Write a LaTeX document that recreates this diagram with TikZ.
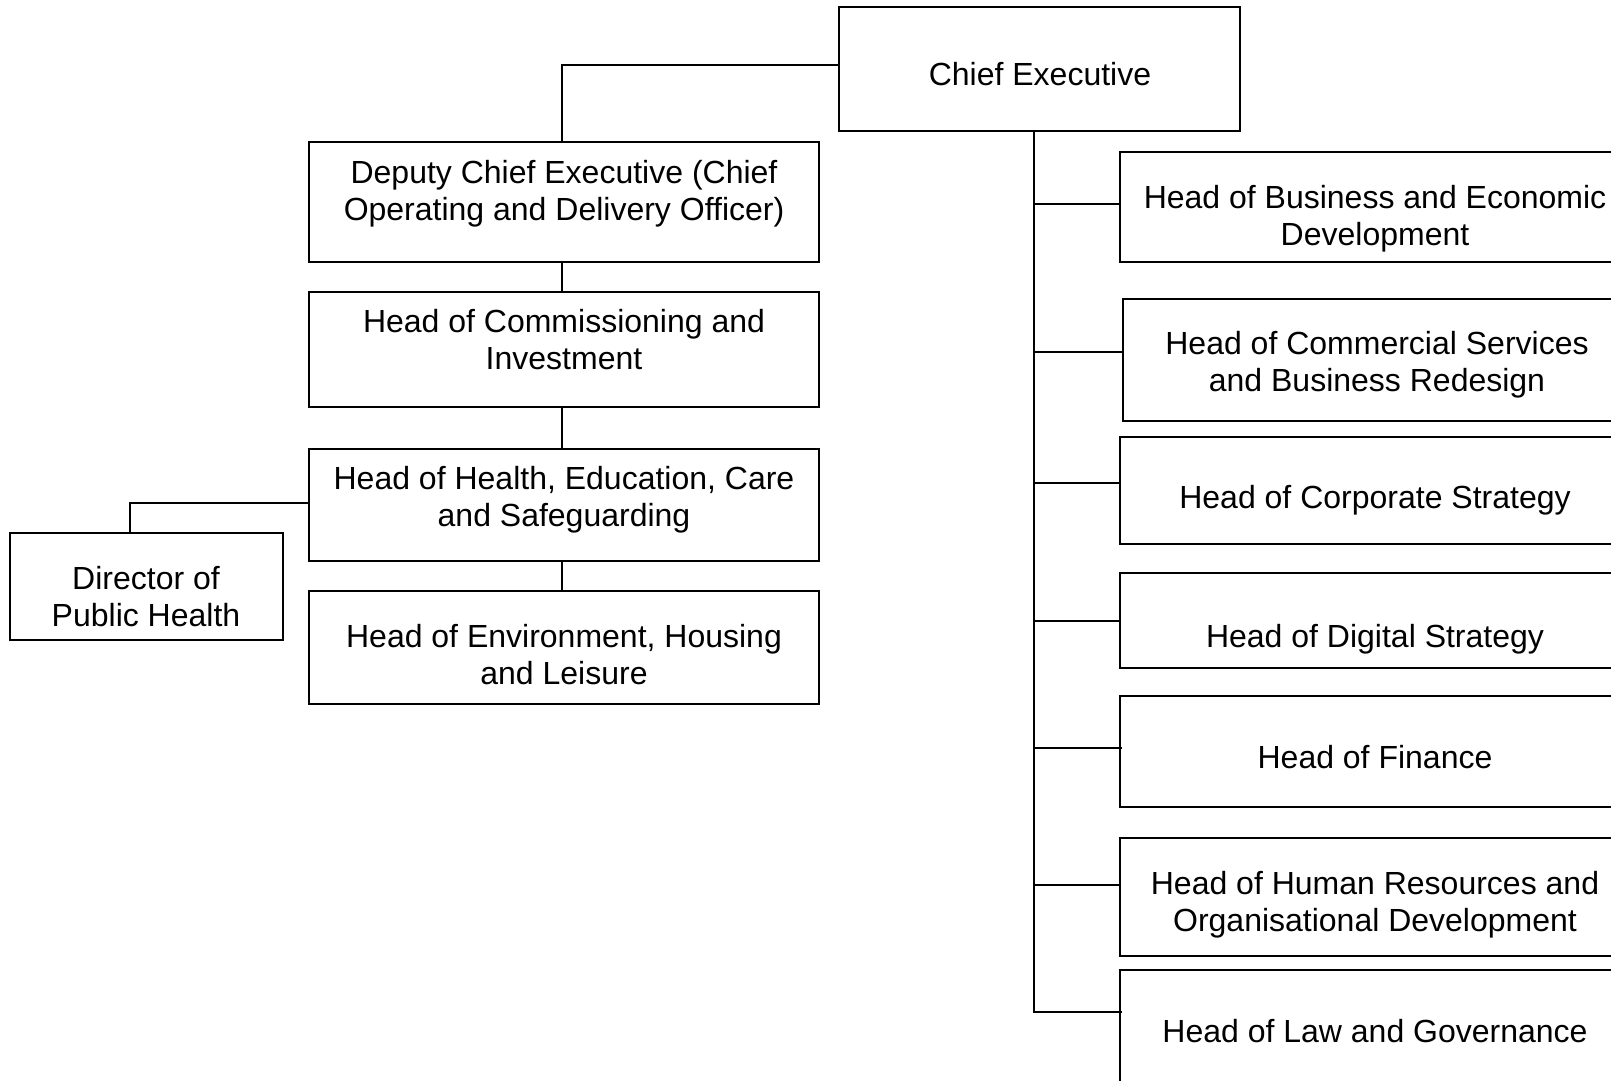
\documentclass[tikz,border=0pt]{standalone}
\usepackage{fontspec}
\setmainfont{Liberation Sans}
\usetikzlibrary{calc}
\begin{document}
\begin{tikzpicture}[x=1pt,y=-1pt,
  box/.style={draw, line width=1.5pt, rectangle, inner sep=0pt},
  txt/.style={font=\fontsize{32}{37}\selectfont, align=center, inner sep=0pt},
  conn/.style={line width=1.5pt}]
\useasboundingbox (0,0) rectangle (1611,1081);
\clip (0,0) rectangle (1611,1081);
% boxes
\node[box, minimum width=401pt, minimum height=124pt] (ce) at (1039.5,69) {};
\node[box, minimum width=510pt, minimum height=120pt] (dep) at (564,202) {};
\node[box, minimum width=510pt, minimum height=115pt] (com) at (564,349.5) {};
\node[box, minimum width=510pt, minimum height=112pt] (hea) at (564,505) {};
\node[box, minimum width=510pt, minimum height=113pt] (env) at (564,647.5) {};
\node[box, minimum width=273pt, minimum height=107pt] (dir) at (146.5,586.5) {};
\node[box, minimum width=509pt, minimum height=110pt] (bus) at (1374.5,207) {};
\node[box, minimum width=508pt, minimum height=122pt] (cms) at (1377,360) {};
\node[box, minimum width=509pt, minimum height=107pt] (cor) at (1374.5,490.5) {};
\node[box, minimum width=509pt, minimum height=95pt] (dig) at (1374.5,620.5) {};
\node[box, minimum width=509pt, minimum height=111pt] (fin) at (1374.5,751.5) {};
\node[box, minimum width=509pt, minimum height=118pt] (hr) at (1374.5,897) {};
\node[box, minimum width=509pt, minimum height=130pt] (law) at (1374.5,1035) {};
% texts
\node[txt] (ce-t) at (1040,74) {Chief Executive};
\node[txt] (dep-t) at (564,194) {Deputy Chief Executive (Chief\\Operating and Delivery Officer)};
\node[txt] (com-t) at (564,340) {Head of Commissioning and\\Investment};
\node[txt] (hea-t) at (564,500) {Head of Health, Education, Care\\and Safeguarding};
\node[txt] (env-t) at (564,654.5) {Head of Environment, Housing\\and Leisure};
\node[txt] (dir-t) at (146,597) {Director of\\Public Health};
\node[txt] (bus-t) at (1375,218.5) {Head of Business and Economic\\Development};
\node[txt] (cms-t) at (1377,364.5) {Head of Commercial Services\\and Business Redesign};
\node[txt] (cor-t) at (1375,500) {Head of Corporate Strategy};
\node[txt] (dig-t) at (1375,639) {Head of Digital Strategy};
\node[txt] (fin-t) at (1375,757) {Head of Finance};
\node[txt] (hr-t) at (1375,905) {Head of Human Resources and\\Organisational Development};
\node[txt] (law-t) at (1375,1031) {Head of Law and Governance};
% left connectors
\draw[conn] ([yshift=4pt]ce.west) -| ([xshift=-2pt]dep.north);
\draw[conn] ([xshift=-2pt]dep.south) -- ([xshift=-2pt]com.north);
\draw[conn] ([xshift=-2pt]com.south) -- ([xshift=-2pt]hea.north);
\draw[conn] ([xshift=-2pt]hea.south) -- ([xshift=-2pt]env.north);
\draw[conn] ([yshift=2pt]hea.west) -| ([xshift=-16.5pt]dir.north);
% right trunk
\coordinate (trk) at ([xshift=-5.5pt]ce.south);
\coordinate (b1) at ($(bus.west)+(0,-3)$);
\coordinate (b2) at ($(cms.west)+(0,-8)$);
\coordinate (b3) at ($(cor.west)+(0,-7.5)$);
\coordinate (b4) at ($(dig.west)+(0,0.5)$);
\coordinate (b5) at ($(fin.west)+(3,-3.5)$);
\coordinate (b6) at ($(hr.west)+(0,-12)$);
\coordinate (b7) at ($(law.west)+(3,-23)$);
\draw[conn] (trk) |- (b7);
\foreach \b in {b1,b2,b3,b4,b5,b6} \draw[conn] (trk |- \b) -- (\b);
\end{tikzpicture}
\end{document}
